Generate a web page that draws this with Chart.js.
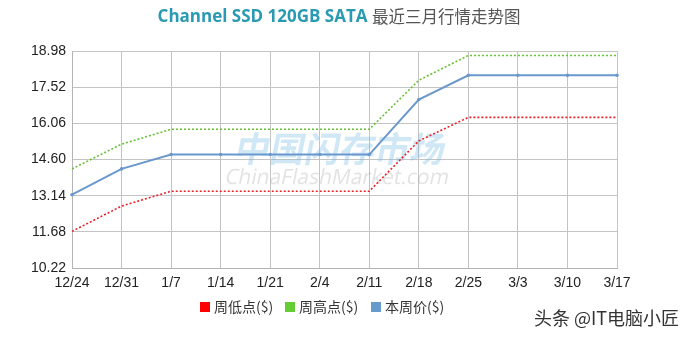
<!DOCTYPE html>
<html>
<head>
<meta charset="utf-8">
<script src="https://cdn.jsdelivr.net/npm/chart.js@4/dist/chart.umd.min.js"></script>
<style>
  html, body { margin: 0; padding: 0; background: #fff; }
  #wrap { width: 686px; height: 337px; position: relative; }
</style>
</head>
<body>
<div id="wrap"><canvas id="trend-chart"></canvas></div>
<script>
// data
const weekLabels = ['12/24', '12/31', '1/7', '1/14', '1/21', '2/4', '2/11', '2/18', '2/25', '3/3', '3/10', '3/17'];
const weekLow = [11.70, 12.72, 13.32, 13.32, 13.32, 13.32, 13.32, 15.35, 16.30, 16.30, 16.30, 16.30];
const weekHigh = [14.22, 15.22, 15.82, 15.82, 15.82, 15.82, 15.82, 17.80, 18.80, 18.80, 18.80, 18.80];
const weekPrice = [13.18, 14.22, 14.80, 14.80, 14.80, 14.80, 14.80, 17.02, 18.00, 18.00, 18.00, 18.00];
const yTicks = [10.22, 11.68, 13.14, 14.60, 16.06, 17.52, 18.98];
const seriesNames = ['周低点($)', '周高点($)', '本周价($)'];

const TrendChart = document.getElementById('trend-chart');

//title, watermarks and legend drawn by hand
const decorPlugin = {
    id: 'decor',
    beforeDatasetsDraw: function (chart) {
        const ctx = chart.ctx;
        ctx.save();
        ctx.textBaseline = 'middle';
        ctx.textAlign = 'center';
        //slanted watermark
        ctx.translate(341, 149);
        ctx.transform(1, 0, -0.2, 1, 0, 0);
        ctx.font = 'bold 35px "Noto Sans CJK SC"';
        ctx.fillStyle = 'rgba(120,185,230,0.35)';
        ctx.fillText('中国闪存市场', 0, 0);
        ctx.font = '21px "Open Sans"';
        ctx.fillStyle = 'rgba(160,160,160,0.3)';
        ctx.fillText('ChinaFlashMarket.com', 2, 29);
        ctx.restore();
    },
    afterDraw: function (chart) {
        const ctx = chart.ctx;
        ctx.save();
        ctx.textBaseline = 'middle';

        //title
        const part1 = 'Channel SSD 120GB SATA ';
        const part2 = '最近三月行情走势图';
        ctx.font = 'bold 17px "Open Sans"';
        const w1 = ctx.measureText(part1).width;
        ctx.font = '16.5px "Noto Sans CJK SC"';
        const w2 = ctx.measureText(part2).width;
        let tx = 339 - (w1 + w2) / 2;
        ctx.textAlign = 'left';
        ctx.font = 'bold 17px "Open Sans"';
        ctx.fillStyle = '#2a9ab2';
        ctx.fillText(part1, tx, 17);
        ctx.font = '16.5px "Noto Sans CJK SC"';
        ctx.fillStyle = '#555555';
        ctx.fillText(part2, tx + w1, 17);

        //legend
        const lx = [200, 285, 371];
        ctx.font = '14px "Noto Sans CJK SC"';
        chart.data.datasets.forEach(function (ds, i) {
            ctx.fillStyle = ds.legendColor;
            ctx.fillRect(lx[i], 302, 10, 10);
            ctx.fillStyle = '#333333';
            ctx.fillText(ds.label, lx[i] + 14, 307);
        });

        //corner mark
        ctx.font = '18px "Noto Sans CJK SC"';
        ctx.textAlign = 'right';
        ctx.lineWidth = 3;
        ctx.strokeStyle = 'rgba(255,255,255,0.9)';
        ctx.strokeText('头条 @IT电脑小匠', 679, 318);
        ctx.fillStyle = '#333333';
        ctx.fillText('头条 @IT电脑小匠', 679, 318);
        ctx.restore();
    }
};

new Chart(TrendChart, {
    type: 'line',
    data: {
        labels: weekLabels,
        datasets: [{
            label: seriesNames[0],
            data: weekLow,
            borderColor: '#e8232b',
            legendColor: '#ff0000',
            borderWidth: 1.6,
            borderDash: [2, 2],
            pointRadius: 0,
            tension: 0
        }, {
            label: seriesNames[1],
            data: weekHigh,
            borderColor: '#66c033',
            legendColor: '#66cc33',
            borderWidth: 1.6,
            borderDash: [2, 2],
            pointRadius: 0,
            tension: 0
        }, {
            label: seriesNames[2],
            data: weekPrice,
            borderColor: '#6a98cc',
            backgroundColor: '#6a98cc',
            legendColor: '#6699cc',
            borderWidth: 2,
            pointRadius: 1.8,
            pointBorderWidth: 0,
            tension: 0
        }]
    },
    options: {
        responsive: true,
        maintainAspectRatio: false,
        animation: false,
        layout: {
            padding: { top: 51, right: 69, left: 0, bottom: 0 }
        },
        plugins: {
            legend: { display: false },
            title: { display: false },
            tooltip: { enabled: false }
        },
        scales: {
            x: {
                offset: false,
                afterFit: function (scale) { scale.height = 69; },
                grid: { color: '#c4c4c4', drawTicks: false },
                border: { color: '#b4b4b4' },
                ticks: {
                    padding: 7,
                    maxRotation: 0,
                    autoSkip: false,
                    color: '#222222',
                    font: { family: '"Liberation Sans"', size: 14 }
                }
            },
            y: {
                min: 10.22,
                max: 18.98,
                afterFit: function (scale) { scale.width = 72; },
                afterBuildTicks: function (scale) {
                    scale.ticks = yTicks.map(function (v) { return { value: v }; });
                },
                grid: { color: '#c4c4c4', drawTicks: false },
                border: { color: '#b4b4b4' },
                ticks: {
                    padding: 6,
                    color: '#222222',
                    font: { family: '"Liberation Sans"', size: 14 },
                    callback: function (v) { return Number(v).toFixed(2); }
                }
            }
        }
    },
    plugins: [decorPlugin]
});
</script>
</body>
</html>
